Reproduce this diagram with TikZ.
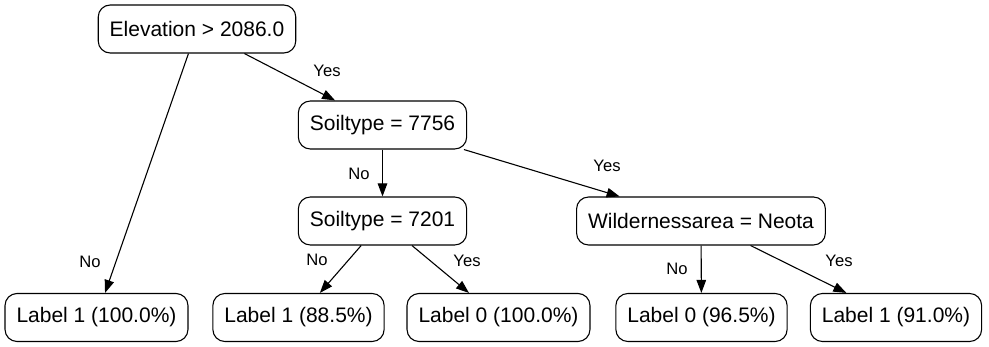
\documentclass[tikz,border=0pt]{standalone}
\usepackage{fontspec}
\setmainfont{Liberation Sans}
\usetikzlibrary{arrows.meta}
\begin{document}
\begin{tikzpicture}[x=1pt,y=-1pt,
  treenode/.style={draw, line width=1.1pt, rounded corners=12pt,
    minimum height=48pt, inner xsep=11.5pt, inner ysep=0pt,
    font=\fontsize{21}{25}\selectfont},
  edgelabel/.style={inner sep=0pt, font=\fontsize{16.6}{19}\selectfont},
  branch/.style={draw, line width=1.1pt, -{Triangle[length=13pt,width=9.5pt]}}]
  \useasboundingbox (0,0) rectangle (989,347);

  % decision nodes
  \node[treenode] (elev) at (197,29) {Elevation > 2086.0};
  \node[treenode] (s7756) at (382.5,125) {Soiltype = 7756};
  \node[treenode] (s7201) at (382.5,221) {Soiltype = 7201};
  \node[treenode] (wild) at (701,221) {Wildernessarea = Neota};

  % leaves
  \node[treenode] (l1a) at (96.5,317.5) {Label 1 (100.0\%)};
  \node[treenode] (l1b) at (298.5,317.5) {Label 1 (88.5\%)};
  \node[treenode] (l0a) at (498.5,317.5) {Label 0 (100.0\%)};
  \node[treenode] (l0b) at (701.5,317.5) {Label 0 (96.5\%)};
  \node[treenode] (l1c) at (896,317.5) {Label 1 (91.0\%)};

  % branches
  \draw[branch] (elev) -- (l1a);
  \draw[branch] (elev) -- (s7756);
  \draw[branch] (s7756) -- (s7201);
  \draw[branch] (s7756) -- (wild);
  \draw[branch] (s7201) -- (l1b);
  \draw[branch] (s7201) -- (l0a);
  \draw[branch] (wild) -- (l0b);
  \draw[branch] (wild) -- (l1c);

  % branch labels
  \node[edgelabel] (e1) at (90,262) {No};
  \node[edgelabel] (e2) at (327,71) {Yes};
  \node[edgelabel] (e3) at (359,174) {No};
  \node[edgelabel] (e4) at (607,166) {Yes};
  \node[edgelabel] (e5) at (317,260) {No};
  \node[edgelabel] (e6) at (467,261) {Yes};
  \node[edgelabel] (e7) at (677,269) {No};
  \node[edgelabel] (e8) at (839,261) {Yes};
\end{tikzpicture}
\end{document}
